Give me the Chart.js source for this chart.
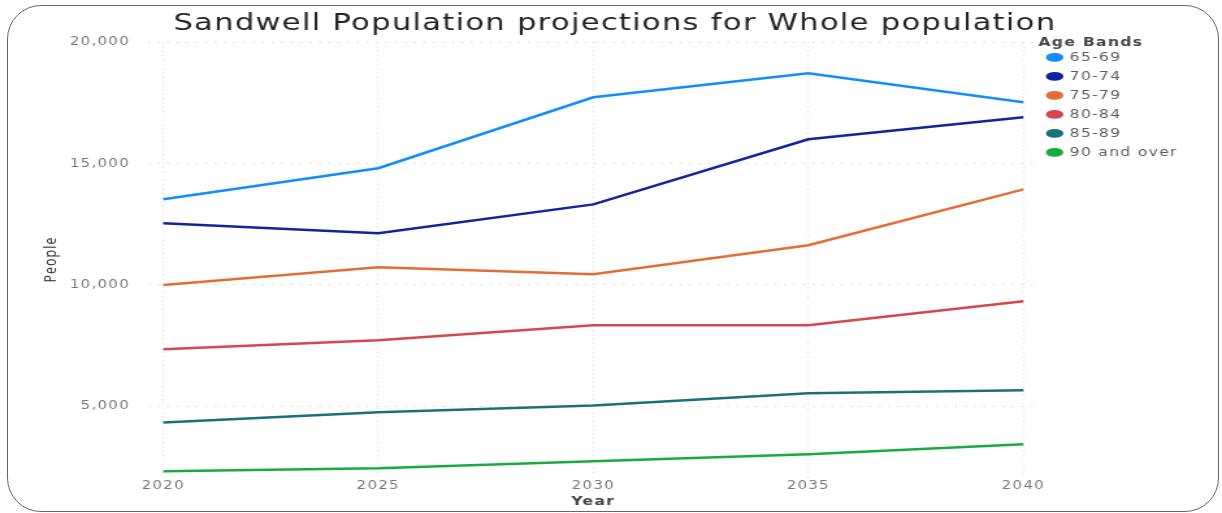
<!DOCTYPE html>
<html>
<head>
<meta charset="utf-8">
<script src="https://cdn.jsdelivr.net/npm/chart.js@4.4.1/dist/chart.umd.min.js"></script>
<style>
  html, body { margin: 0; padding: 0; background: #fff; }
  #wrap { position: relative; width: 1222px; height: 513px; overflow: hidden; }
  #frame {
    position: absolute; left: 7px; top: 5px; width: 1212px; height: 507px;
    box-sizing: border-box; border: 1.5px solid #666; border-radius: 34px;
  }
  #popChart { position: absolute; left: 0; top: 0; }
</style>
</head>
<body>
<div id="wrap">
  <div id="frame"></div>
  <!-- drawn at 940px wide and shown at 1222px, so everything is a little wide -->
  <canvas id="popChart" width="940" height="513" style="width:1222px;height:513px"></canvas>
</div>
<script>
const years = [2020, 2025, 2030, 2035, 2040];
const bands = ['65-69', '70-74', '75-79', '80-84', '85-89', '90 and over'];
const age65to69 = [13530, 14810, 17730, 18720, 17530];
const age70to74 = [12540, 12130, 13320, 16000, 16910];
const age75to79 = [10000, 10730, 10440, 11640, 13940];
const age80to84 = [7350, 7720, 8340, 8340, 9330];
const age85to89 = [4340, 4760, 5040, 5540, 5660];
const age90plus = [2330, 2450, 2740, 3030, 3440];
const yTicks = [5000, 10000, 15000, 20000];

const seriesValues = [age65to69, age70to74, age75to79, age80to84, age85to89, age90plus];
const colours = ['#118DFF', '#12239E', '#E66C37', '#D64550', '#197278', '#1AAB40'];

Chart.defaults.font.family = "'DejaVu Sans', sans-serif";

// loose letter spacing for every label (set before measuring and before drawing)
const spacedText = {
    id: 'spacedText',
    beforeLayout(chart) { chart.ctx.letterSpacing = '1px'; },
    beforeDraw(chart) { chart.ctx.letterSpacing = '1px'; }
};

const ctx = document.getElementById('popChart').getContext('2d');
const chart = new Chart(ctx, {
    type: 'line',
    plugins: [spacedText],
    data: {
        datasets: bands.map((band, i) => ({
            label: band,
            data: seriesValues[i].map((v, j) => ({ x: years[j], y: v })),
            borderColor: colours[i],
            backgroundColor: colours[i],
            borderWidth: 2.5,
            pointRadius: 0,
            tension: 0,
        }))
    },
    options: {
        responsive: false,
        animation: false,
        devicePixelRatio: 1,
        layout: { padding: { left: 30, right: 24, top: 6, bottom: 4 } },
        plugins: {
            title: {
                display: true,
                text: 'Sandwell Population projections for Whole population',
                color: '#252423',
                font: { size: 23.5, weight: 'normal' },
                padding: { top: 4, bottom: 4 }
            },
            legend: {
                position: 'right',
                align: 'start',
                title: {
                    display: true,
                    text: 'Age Bands',
                    position: 'start',
                    color: '#444',
                    font: { size: 12, weight: 'bold' },
                    padding: { top: 31, bottom: -7 }
                },
                labels: {
                    usePointStyle: true,
                    pointStyle: 'circle',
                    pointStyleWidth: 11,
                    boxHeight: 4.5,
                    padding: 7,
                    color: '#605E5C',
                    font: { size: 12 }
                }
            },
            tooltip: { enabled: false }
        },
        scales: {
            x: {
                type: 'linear',
                min: 2019.65,
                max: 2040.35,
                afterBuildTicks: scale => { scale.ticks = years.map(v => ({ value: v })); },
                ticks: {
                    color: '#777',
                    font: { size: 11.5 },
                    padding: 2,
                    callback: v => String(v)
                },
                grid: { color: '#d6d6d6', drawTicks: false },
                border: { display: false, dash: [1, 3.3] },
                title: {
                    display: true,
                    text: 'Year',
                    color: '#444',
                    font: { size: 12, weight: 'bold' },
                    padding: { top: 0, bottom: 0 }
                }
            },
            y: {
                min: 2100,
                max: 20000,
                afterBuildTicks: scale => { scale.ticks = yTicks.map(v => ({ value: v })); },
                afterFit: scale => { scale.width = 84; },
                ticks: {
                    color: '#777',
                    font: { size: 11.5 },
                    padding: 14,
                    callback: v => v.toLocaleString('en-US')
                },
                grid: { color: '#d6d6d6', drawTicks: false },
                border: { display: false, dash: [1.5, 5.8] },
                title: {
                    display: true,
                    text: 'People',
                    color: '#252423',
                    font: { family: "'Open Sans', sans-serif", size: 12.5 },
                    padding: { top: 2, bottom: 0 }
                }
            }
        }
    }
});
</script>
</body>
</html>
